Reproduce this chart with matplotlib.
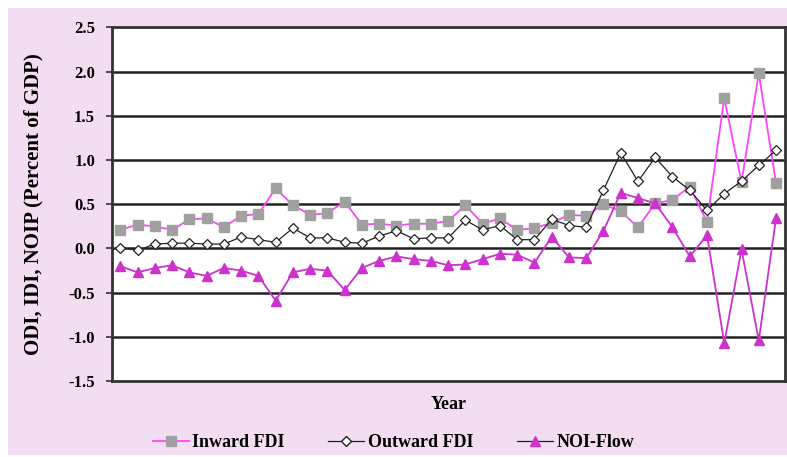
import matplotlib.pyplot as plt
import numpy as np
from matplotlib.lines import Line2D
from matplotlib.patches import Rectangle

# fluxos em % do PIB, um ponto por ano
inward_fdi = [0.21, 0.27, 0.25, 0.21, 0.33, 0.34, 0.24, 0.37, 0.39, 0.68,
              0.49, 0.38, 0.40, 0.53, 0.27, 0.28, 0.26, 0.28, 0.28, 0.31,
              0.49, 0.28, 0.34, 0.21, 0.23, 0.29, 0.38, 0.37, 0.50, 0.42,
              0.24, 0.51, 0.55, 0.70, 0.30, 1.70, 0.75, 1.98, 0.74]
outward_fdi = [0.01, -0.02, 0.05, 0.06, 0.06, 0.05, 0.05, 0.13, 0.10, 0.07,
               0.23, 0.12, 0.12, 0.07, 0.06, 0.14, 0.20, 0.11, 0.12, 0.12,
               0.32, 0.21, 0.26, 0.10, 0.10, 0.33, 0.26, 0.24, 0.66, 1.08,
               0.76, 1.03, 0.81, 0.66, 0.43, 0.62, 0.76, 0.94, 1.11]
noi_flow = [-0.20, -0.27, -0.22, -0.19, -0.27, -0.31, -0.22, -0.25, -0.31, -0.59,
            -0.27, -0.23, -0.25, -0.47, -0.22, -0.14, -0.09, -0.12, -0.14, -0.19,
            -0.18, -0.12, -0.06, -0.07, -0.16, 0.13, -0.10, -0.11, 0.20, 0.63,
            0.57, 0.51, 0.24, -0.09, 0.15, -1.07, -0.01, -1.04, 0.34]
yticks = [-1.5, -1.0, -0.5, 0.0, 0.5, 1.0, 1.5, 2.0, 2.5]

plt.rcParams['font.family'] = ['Liberation Serif', 'DejaVu Serif']

fig = plt.figure(figsize=(7.87, 4.57), dpi=100, facecolor='white')
# moldura lilás do gráfico
fig.patches.append(Rectangle((8/787, 2/457), 1, 447/457, transform=fig.transFigure,
                             facecolor='#f3def1', edgecolor='none', zorder=-10))
ax = fig.add_axes([0.142, 0.166, 0.855, 0.774])
ax.set_facecolor('white')

x = np.arange(len(inward_fdi))
ax.plot(x, inward_fdi, color='#ff44ff', lw=1.3, marker='s', ms=7.5,
        mfc='#a0a0a0', mec='#a0a0a0', zorder=3)
ax.plot(x, outward_fdi, color='#222222', lw=0.9, marker='D', ms=5.5,
        mfc='white', mec='#222222', mew=0.9, zorder=4)
ax.plot(x, noi_flow, color='#cc33cc', lw=1.3, marker='^', ms=7.5,
        mfc='#cc33cc', mec='#cc33cc', zorder=3)

ax.set_xlim(-0.5, len(x) - 0.5)
ax.set_ylim(-1.5, 2.5)
ax.set_yticks(yticks)
ax.set_yticklabels([f'{v:.1f}' for v in yticks], fontsize=12, fontweight='bold')
ax.set_xticks([])
for v in yticks[1:-1]:
    ax.axhline(v, color='#222222', lw=1.8, zorder=1)
for s in ax.spines.values():
    s.set_color('#333333')
    s.set_linewidth(2)
ax.tick_params(axis='y', length=4, width=1.2, pad=8, color='#333333')

ax.set_xlabel('Year', fontsize=13, fontweight='bold', labelpad=11)
ax.set_ylabel('ODI, IDI, NOIP (Percent of GDP)', fontsize=15, fontweight='bold', labelpad=18)

handles = [
    Line2D([], [], color='#ff44ff', lw=1.3, marker='s', ms=7.5, mfc='#a0a0a0', mec='#a0a0a0'),
    Line2D([], [], color='#222222', lw=0.9, marker='D', ms=5.5, mfc='white', mec='#222222'),
    Line2D([], [], color='#222222', lw=0.9, marker='^', ms=7.5, mfc='#cc33cc', mec='#cc33cc'),
]
fig.legend(handles, ['Inward FDI', 'Outward FDI', 'NOI-Flow'], loc='center',
           bbox_to_anchor=(0.50, 0.032), ncol=3, frameon=False, handlelength=2.0,
           handletextpad=0.2, columnspacing=2.4, prop={'size': 13, 'weight': 'bold'})

fig.savefig('out.png', dpi=100, facecolor=fig.get_facecolor())
